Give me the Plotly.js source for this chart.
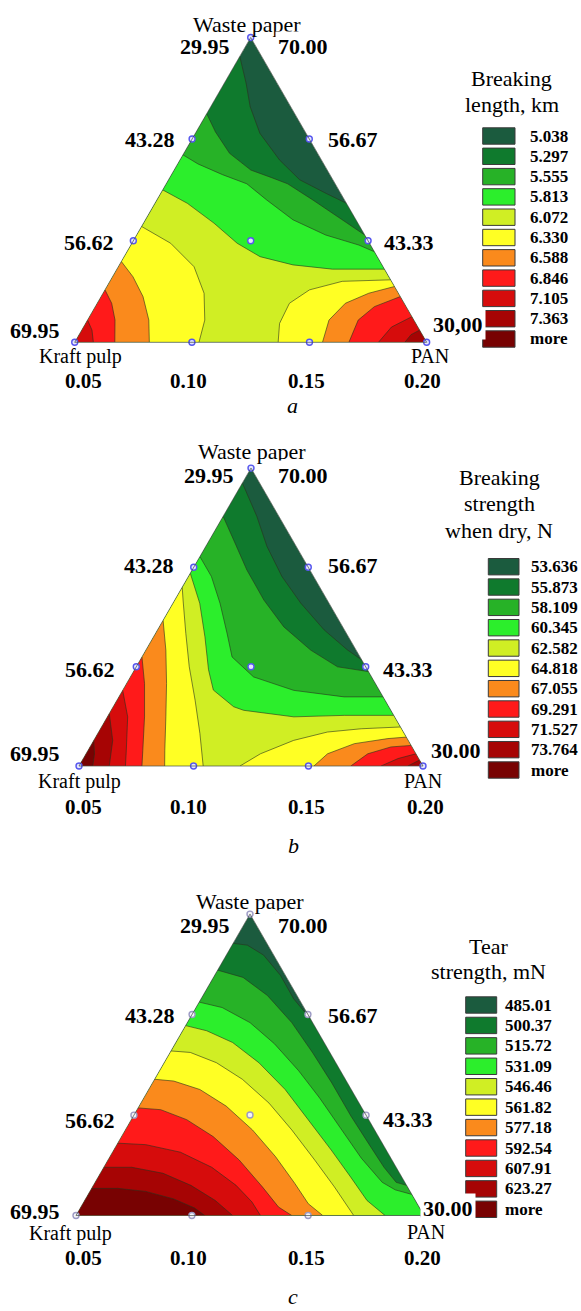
<!DOCTYPE html>
<html><head><meta charset="utf-8">
<script src="https://cdn.plot.ly/plotly-3.0.1.min.js"></script>
<style>html,body{margin:0;padding:0;background:#fff}#chart{width:581px;height:1311px}</style>
</head><body><div id="chart"></div>
<script>
// ---------- DATA (ternary fractions: [waste paper share, PAN share]) ----------
const bandColors = ['#1b5b3e','#0f7a2d','#27b227','#2cee2c','#d0ee24','#ffff24','#fa8a1c','#ff1a1a','#d60c0c','#a60404','#780202'];

const designWaste = [1, 0.667, 0.333, 0, 0, 0, 0, 0.333, 0.667, 0.333];
const designKraft = [0, 0.333, 0.667, 1, 0.667, 0.333, 0, 0, 0, 0.333];
const designPAN   = [0, 0, 0, 0, 0.333, 0.667, 1, 0.667, 0.333, 0.333];

const kraftTicks = ['29.95','43.28','56.62','69.95'];
const wasteTicksA = ['70.00','56.67','43.33','30,00'];
const wasteTicksBC = ['70.00','56.67','43.33','30.00'];
const panTicks = ['0.05','0.10','0.15','0.20'];

// (a) Breaking length, km
const lenTitle = ['Breaking','length, km'];
const lenLevels = ['5.038','5.297','5.555','5.813','6.072','6.330','6.588','6.846','7.105','7.363','more'];
const lenC1 = [[0.938,0],[0.85,0.062],[0.773,0.112],[0.686,0.183],[0.598,0.283],[0.533,0.373],[0.489,0.469],[0.456,0.544]];
const lenC2 = [[0.75,0],[0.69,0.055],[0.62,0.13],[0.565,0.218],[0.54,0.29],[0.52,0.345],[0.467,0.443],[0.402,0.559],[0.352,0.648]];
const lenC3 = [[0.615,0],[0.585,0.058],[0.55,0.145],[0.52,0.229],[0.467,0.312],[0.402,0.419],[0.352,0.537],[0.319,0.648],[0.297,0.703]];
const lenC4 = [[0.5,0],[0.456,0.092],[0.391,0.2],[0.325,0.299],[0.281,0.386],[0.254,0.493],[0.24,0.612],[0.24,0.76]];
const lenC5L = [[0.38,0],[0.325,0.11],[0.248,0.215],[0.161,0.287],[0.073,0.333],[0,0.353]];
const lenC5R = [[0,0.578],[0.062,0.551],[0.128,0.546],[0.172,0.581],[0.2,0.66],[0.205,0.795]];
const lenC6L = [[0.265,0],[0.215,0.058],[0.15,0.119],[0.073,0.174],[0,0.212]];
const lenC6R = [[0,0.704],[0.073,0.686],[0.128,0.705],[0.161,0.755],[0.183,0.817]];
const lenC7L = [[0.172,0],[0.128,0.041],[0.073,0.078],[0,0.114]];
const lenC7R = [[0,0.779],[0.073,0.769],[0.117,0.793],[0.15,0.85]];
const lenC8L = [[0.073,0],[0.04,0.029],[0,0.053]];
const lenC8R = [[0,0.863],[0.05,0.875],[0.084,0.916]];
const lenC9R = [[0,0.938],[0.025,0.943],[0.04,0.96]];

// (b) Breaking strength when dry, N
const strTitle = ['Breaking','strength','when dry, N'];
const strLevels = ['53.636','55.873','58.109','60.345','62.582','64.818','67.055','69.291','71.527','73.764','more'];
const strC1 = [[0.95,0],[0.838,0.098],[0.737,0.178],[0.636,0.272],[0.547,0.371],[0.457,0.484],[0.39,0.585],[0.356,0.644]];
const strC2 = [[0.838,0],[0.759,0.07],[0.658,0.159],[0.557,0.259],[0.467,0.362],[0.389,0.479],[0.333,0.585],[0.317,0.683]];
const strC3 = [[0.703,0],[0.636,0.067],[0.546,0.137],[0.445,0.208],[0.366,0.262],[0.299,0.358],[0.254,0.497],[0.232,0.655],[0.232,0.768]];
const strC4 = [[0.647,0],[0.546,0.078],[0.434,0.149],[0.323,0.215],[0.255,0.263],[0.199,0.35],[0.187,0.385],[0.165,0.542],[0.17,0.686],[0.17,0.83]];
const strC5L = [[0.6,0],[0.557,0.024],[0.445,0.088],[0.333,0.154],[0.221,0.227],[0.109,0.297],[0,0.361]];
const strC5R = [[0,0.468],[0.041,0.507],[0.086,0.581],[0.114,0.665],[0.125,0.758],[0.131,0.869]];
const strC6L = [[0.489,0],[0.389,0.058],[0.277,0.116],[0.165,0.17],[0.053,0.223],[0,0.249]];
const strC6R = [[0,0.683],[0.041,0.702],[0.075,0.763],[0.092,0.852],[0.097,0.903]];
const strC7L = [[0.366,0],[0.277,0.052],[0.165,0.108],[0.053,0.159],[0,0.183]];
const strC7R = [[0,0.79],[0.041,0.819],[0.064,0.875],[0.069,0.931]];
const strC8L = [[0.254,0],[0.165,0.059],[0.053,0.111],[0,0.135]];
const strC8R = [[0,0.878],[0.025,0.915],[0.041,0.959]];
const strC9L = [[0.176,0],[0.086,0.055],[0,0.088]];
const strC9R = [[0,0.956],[0.02,0.98]];
const strC10L = [[0.086,0],[0.04,0.025],[0,0.04]];

// (c) Tear strength, mN
const tearTitle = ['Tear','strength, mN'];
const tearLevels = ['485.01','500.37','515.72','531.09','546.46','561.82','577.18','592.54','607.91','623.27','more'];
const tearC1 = [[0.903,0],[0.897,0.044],[0.864,0.107],[0.797,0.189],[0.719,0.266],[0.652,0.348]];
const tearC2 = [[0.814,0],[0.79,0.085],[0.73,0.185],[0.64,0.3],[0.54,0.41],[0.44,0.515],[0.33,0.625],[0.24,0.72],[0.16,0.805],[0.11,0.865],[0.1,0.9]];
const tearC3 = [[0.708,0],[0.69,0.075],[0.64,0.18],[0.57,0.285],[0.48,0.4],[0.39,0.505],[0.29,0.615],[0.19,0.725],[0.11,0.825],[0.085,0.875],[0.07,0.93]];
const tearC4 = [[0.63,0],[0.613,0.069],[0.574,0.163],[0.507,0.272],[0.418,0.392],[0.318,0.508],[0.217,0.625],[0.128,0.725],[0.05,0.811],[0,0.888]];
const tearC5 = [[0.546,0],[0.541,0.058],[0.507,0.15],[0.452,0.252],[0.373,0.368],[0.284,0.478],[0.184,0.594],[0.095,0.695],[0,0.798]];
const tearC6 = [[0.452,0],[0.446,0.058],[0.418,0.147],[0.363,0.25],[0.284,0.365],[0.195,0.476],[0.106,0.576],[0.039,0.648],[0,0.709]];
const tearC7 = [[0.357,0],[0.351,0.068],[0.318,0.159],[0.262,0.263],[0.184,0.377],[0.095,0.488],[0.028,0.568],[0,0.62]];
const tearC8 = [[0.24,0],[0.235,0.083],[0.21,0.195],[0.16,0.31],[0.1,0.41],[0.045,0.483],[0,0.53]];
const tearC9 = [[0.16,0],[0.16,0.08],[0.14,0.18],[0.1,0.28],[0.05,0.375],[0,0.45]];
const tearC10 = [[0.09,0],[0.09,0.075],[0.08,0.16],[0.055,0.253],[0.025,0.328],[0,0.37]];

const lenLayers = [[lenC1],[lenC2],[lenC3],[lenC4],[lenC5L,lenC5R],[lenC6L,lenC6R],[lenC7L,lenC7R],[lenC8L,lenC8R],[lenC9R]];
const strLayers = [[strC1],[strC2],[strC3],[strC4],[strC5L,strC5R],[strC6L,strC6R],[strC7L,strC7R],[strC8L,strC8R],[strC9L,strC9R],[strC10L]];
const tearLayers = [[tearC1],[tearC2],[tearC3],[tearC4],[tearC5],[tearC6],[tearC7],[tearC8],[tearC9],[tearC10]];

// ---------- BUILD ----------
const W = 581, H = 1311;
const FONT = 'Liberation Serif, Times New Roman, serif';

function polygon(curve){
  const A=[],B=[],C=[];
  curve.forEach(q=>{A.push(q[0]);C.push(q[1]);B.push(Math.max(0,1-q[0]-q[1]));});
  const first=curve[0], last=curve[curve.length-1];
  if (Math.abs(last[0]+last[1]-1)<0.02){A.push(0);B.push(0);C.push(1);}
  if (first[1]<0.005){A.push(0);B.push(1);C.push(0);}
  return {A,B,C};
}
function panelTraces(sub, layers, mk){
  const tr=[];
  tr.push({type:'scatterternary',subplot:sub,a:[1,0,0],b:[0,1,0],c:[0,0,1],mode:'lines',fill:'toself',
    fillcolor:bandColors[0],line:{width:0,color:bandColors[0]},hoverinfo:'skip',showlegend:false});
  layers.forEach((pieces,i)=>pieces.forEach(cv=>{
    const p=polygon(cv);
    tr.push({type:'scatterternary',subplot:sub,a:p.A,b:p.B,c:p.C,mode:'lines',fill:'toself',
      fillcolor:bandColors[i+1],line:{width:0,color:bandColors[i+1]},hoverinfo:'skip',showlegend:false});
  }));
  layers.forEach(pieces=>pieces.forEach(cv=>{
    tr.push({type:'scatterternary',subplot:sub,a:cv.map(q=>q[0]),c:cv.map(q=>q[1]),
      b:cv.map(q=>Math.max(0,1-q[0]-q[1])),mode:'lines',
      line:{color:'rgba(40,50,30,0.75)',width:0.8},hoverinfo:'skip',showlegend:false});
  }));
  tr.push({type:'scatterternary',subplot:sub,a:designWaste,b:designKraft,c:designPAN,mode:'markers',
    marker:{symbol:'circle',size:6,color:mk.fill,line:{color:mk.edge,width:1.4}},hoverinfo:'skip',showlegend:false,cliponaxis:false});
  return tr;
}

const data = [].concat(
  panelTraces('ternary', lenLayers, {fill:'#e4e6ff',edge:'#5656ee'}),
  panelTraces('ternary2', strLayers, {fill:'#e4e6ff',edge:'#5656ee'}),
  panelTraces('ternary3', tearLayers, {fill:'#f4f4f8',edge:'#9c9ac4'})
);

const axisCfg = {showticklabels:false,ticks:'',showgrid:false,showline:true,linecolor:'rgba(70,80,70,0.7)',linewidth:1,title:{text:''},min:0};
function tern(x0,x1,yb,h){ // pixel box -> paper domain
  return {domain:{x:[x0/W,x1/W],y:[1-yb/H,1-(yb-h)/H]},bgcolor:'rgba(0,0,0,0)',sum:1,
    aaxis:axisCfg,baxis:axisCfg,caxis:axisCfg};
}

function ann(text,x,y,o){
  return Object.assign({text:text,x:x/W,y:1-y/H,xref:'paper',yref:'paper',showarrow:false,
    xanchor:'center',yanchor:'middle',font:{family:FONT,size:22,color:'#000'}},o||{});
}
const bold = {family:FONT,size:22,color:'#000',weight:'bold'};
const bold21 = {family:FONT,size:21,color:'#000',weight:'bold'};
const reg20 = {family:FONT,size:20,color:'#000'};
const annotations = [];
const shapes = [];

function panelText(p){
  annotations.push(ann('Waste paper',p.waste[0],p.waste[1]));
  kraftTicks.forEach((t,i)=>annotations.push(ann('<b>'+t+'</b>',p.lx[i],p.ly[i],{xanchor:'right',font:bold,bgcolor:'#fff',borderpad:1})));
  p.rt.forEach((t,i)=>annotations.push(ann('<b>'+t+'</b>',p.rx[i],p.ry[i],{xanchor:'left',font:bold,bgcolor:'#fff',borderpad:2})));
  annotations.push(ann('Kraft pulp',p.kraft[0],p.kraft[1],{font:reg20}));
  annotations.push(ann('PAN',p.pan[0],p.pan[1],{font:reg20}));
  panTicks.forEach((t,i)=>annotations.push(ann('<b>'+t+'</b>',p.bx[i],p.by,{font:bold21})));
  annotations.push(ann('<i>'+p.letter+'</i>',p.lt[0],p.lt[1]));
}
function legend(title,levels,g){
  title.forEach((t,i)=>annotations.push(ann(t,g.tx,g.ty[i])));
  levels.forEach((lv,i)=>{
    const yc=g.y0+i*g.pitch;
    shapes.push({type:'rect',xref:'paper',yref:'paper',x0:g.sx0/W,x1:g.sx1/W,y0:1-(yc-8.2)/H,y1:1-(yc+8.2)/H,
      fillcolor:bandColors[i],line:{color:'#3a3a3a',width:1},layer:'above'});
    annotations.push(ann('<b>'+lv+'</b>',g.lx,yc,{xanchor:'left',font:{family:FONT,size:17,color:'#000',weight:'bold'}}));
  });
}

panelText({waste:[247,24],lx:[232,176.7,116,61.7],ly:[46.7,139,243,331],rt:wasteTicksA,
  rx:[275,325,381,430],ry:[46.7,139,243,324],kraft:[80.5,356],pan:[430,356],
  bx:[83,188,306,422],by:381,letter:'a',lt:[292,405]});
panelText({waste:[251.7,451.7],lx:[236,176,116.7,61.7],ly:[475.7,566,669.3,753.3],rt:wasteTicksBC,
  rx:[275,325,380,428],ry:[475.7,566,669.3,750],kraft:[80,781],pan:[423,781],
  bx:[83.3,188.3,306,425],by:806.5,letter:'b',lt:[293,845]});
panelText({waste:[250,901.7],lx:[231.7,176.7,116.7,61.7],ly:[926,1016,1120,1211],rt:wasteTicksBC,
  rx:[275,325,380,420],ry:[926,1016,1119,1208],kraft:[70,1233],pan:[426,1232],
  bx:[83.3,188.3,306,422],by:1257.5,letter:'c',lt:[292.6,1296]});

legend(lenTitle,lenLevels,{tx:511.7,ty:[78.3,105],sx0:482.7,sx1:515,y0:136,pitch:20.3,lx:528});
legend(strTitle,strLevels,{tx:499.3,ty:[477.3,503.3,530],sx0:488.3,sx1:519,y0:566.7,pitch:20.33,lx:529.3});
legend(tearTitle,tearLevels,{tx:488.3,ty:[946,971.7],sx0:465.7,sx1:496.7,y0:1005,pitch:20.43,lx:503.3});

const layout = {
  width:W,height:H,margin:{l:0,r:0,t:0,b:0},paper_bgcolor:'#fff',plot_bgcolor:'#fff',
  font:{family:FONT,color:'#000'},showlegend:false,
  ternary:tern(74.7,426.7,342.3,304.8),
  ternary2:tern(79,423,766,297.9),
  ternary3:tern(76,424,1215.5,301.4),
  annotations:annotations,shapes:shapes
};
Plotly.newPlot('chart',data,layout,{staticPlot:true,displayModeBar:false});
</script></body></html>
